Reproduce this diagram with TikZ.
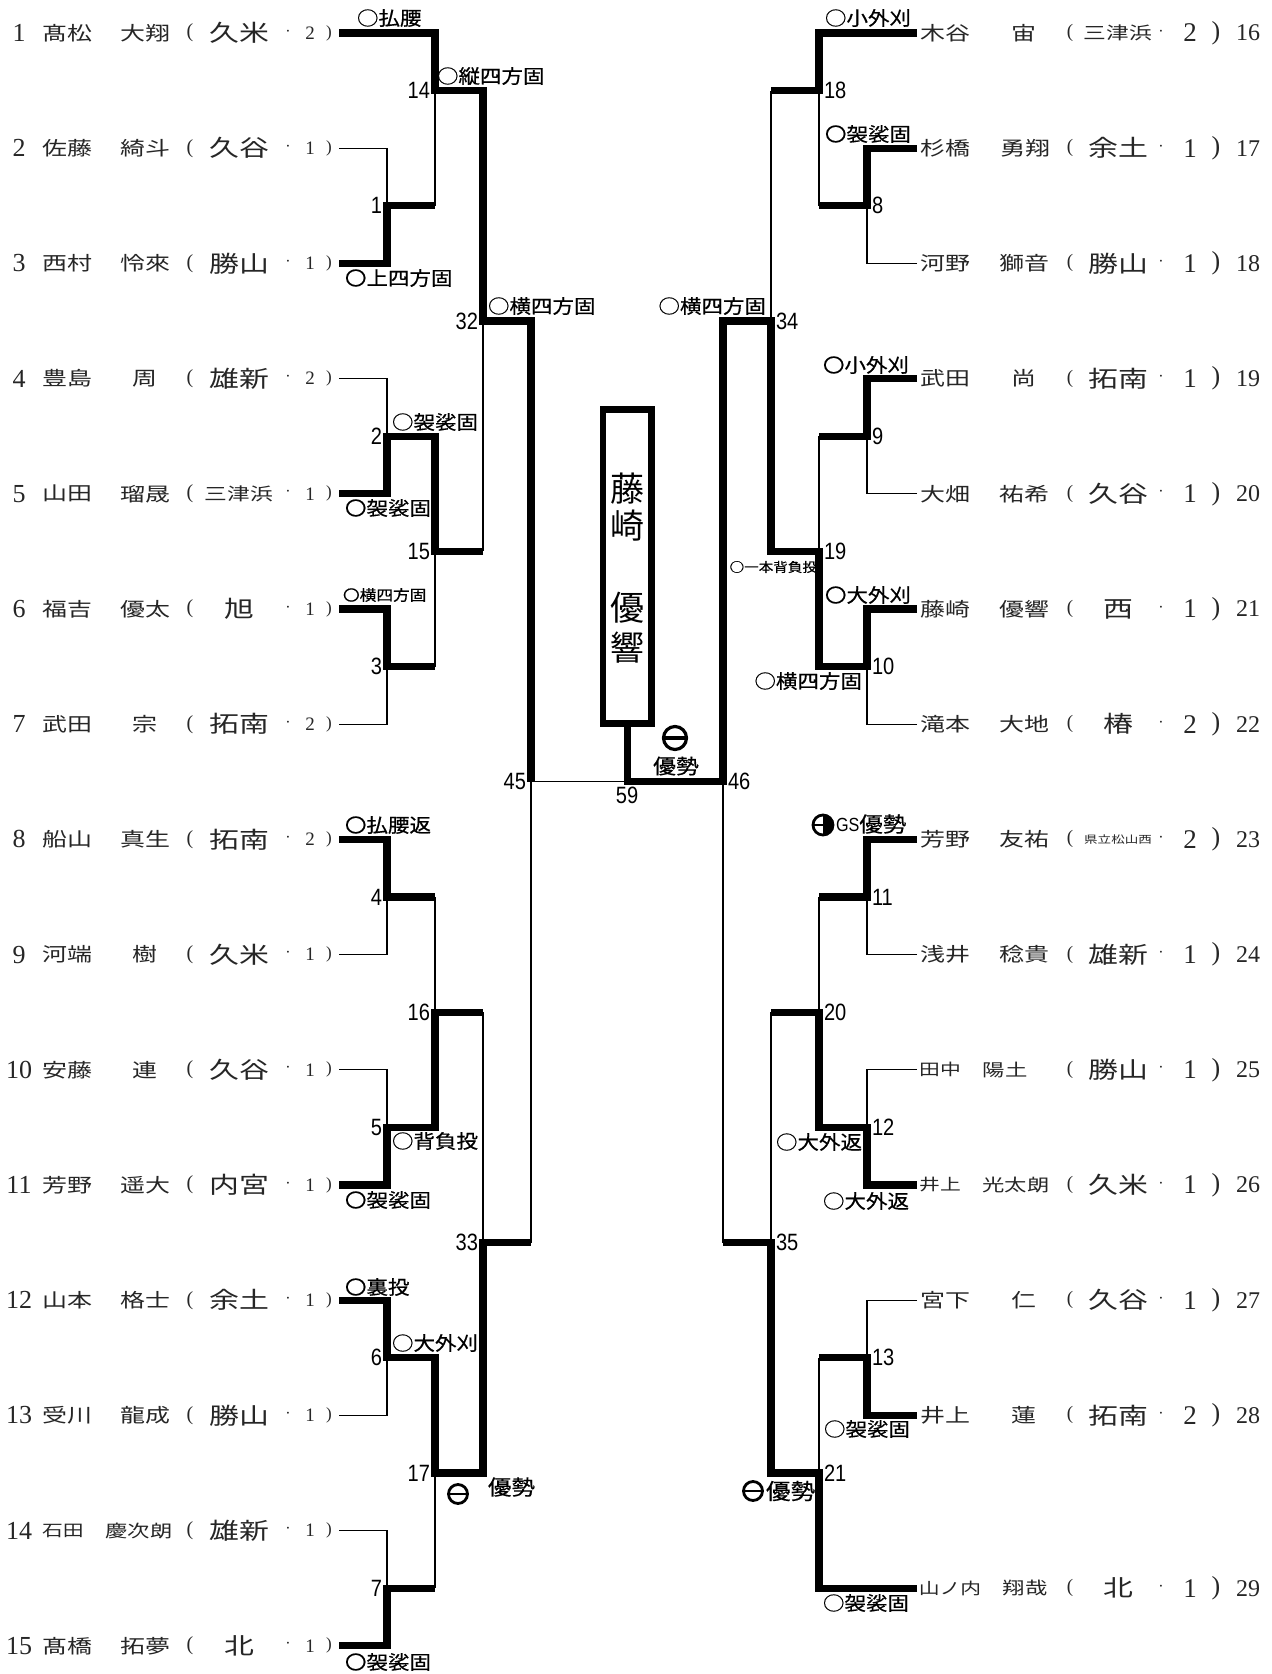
\documentclass[tikz,border=0pt]{standalone}
\usepackage{fontspec}
\setmainfont{Liberation Serif}
\newfontfamily\jpname[FakeStretch=1.3]{Noto Sans CJK JP}
\newfontfamily\jplab[FakeStretch=1.12,FakeBold=0.6]{Noto Sans CJK JP}
\newfontfamily\jpbox{Noto Sans CJK JP}
\newfontfamily\numf[FakeStretch=0.85]{Liberation Sans}
\newcommand\ky[1]{33+57.6*#1}
\newcommand\smn{\fontsize{8pt}{8pt}\selectfont}
\newcommand\smb{\fontsize{8.6pt}{9pt}\selectfont}
\newcommand\schm{\fontsize{8.75pt}{9pt}\selectfont}
\newcommand\scht{\fontsize{5.2pt}{6pt}\selectfont}
% left row: id, k, surx, sur, givx, giv, school, grade
\newcommand\LR[8]{%
  \node[pn] (Ln#1) at (19,\ky{#2}) {#1};
  \node[nm] (Ls#1) at (#3,\ky{#2}) {#4};
  \node[nm] (Lg#1) at (#5,\ky{#2}) {#6};
  \node[opL] (Lo#1) at (190,\ky{#2}) {(};
  \node[sc] (Lc#1) at (239,\ky{#2}) {#7};
  \node[dt] (Ld#1) at (288,\ky{#2}) {·};
  \node[grL] (Lr#1) at (310,\ky{#2}) {#8};
  \node[cpL] (Lp#1) at (329,\ky{#2}) {)};
}
% right row: id, k, surx, sur, givx, giv, school, grade
\newcommand\RR[8]{%
  \node[nm] (Rs#1) at (#3,\ky{#2}) {#4};
  \node[nm] (Rg#1) at (#5,\ky{#2}) {#6};
  \node[opR] (Ro#1) at (1070,\ky{#2}) {(};
  \node[sc] (Rc#1) at (1118,\ky{#2}) {#7};
  \node[dt] (Rd#1) at (1161,\ky{#2}) {·};
  \node[grR] (Rr#1) at (1190,\ky{#2}) {#8};
  \node[cpR] (Rp#1) at (1216,\ky{#2}) {)};
  \node[pnR] (Rn#1) at (1236,\ky{#2}) {#1};
}
\begin{document}
\begin{tikzpicture}[x=0.5pt,y=-0.5pt,
  every node/.style={inner sep=0pt,outer sep=0pt},
  thk/.style={line width=3.6pt,line join=miter},
  thn/.style={line width=0.65pt},
  nm/.style={font=\jpname\fontsize{9.6pt}{10pt}\selectfont,text=black!85},
  sc/.style={font=\jpname\fontsize{11.5pt}{12pt}\selectfont,text=black!85},
  pn/.style={font=\fontsize{13pt}{13pt}\selectfont,text=black!85},
  pnR/.style={font=\fontsize{12pt}{12pt}\selectfont,anchor=west,text=black!85},
  opL/.style={font=\fontsize{10pt}{10pt}\selectfont,text=black!85},
  cpL/.style={font=\fontsize{8.5pt}{9pt}\selectfont,text=black!85},
  opR/.style={font=\fontsize{9.5pt}{10pt}\selectfont,text=black!85},
  cpR/.style={font=\fontsize{13pt}{13pt}\selectfont,text=black!85},
  dt/.style={font=\fontsize{8pt}{8pt}\selectfont,text=black!85},
  grL/.style={font=\fontsize{9.5pt}{10pt}\selectfont,text=black!85},
  grR/.style={font=\fontsize{13.5pt}{14pt}\selectfont,text=black!85},
  mn/.style={font=\numf\fontsize{11.8pt}{12pt}\selectfont},
  mnL/.style={mn,anchor=east,xshift=-2.5pt},
  mnR/.style={mn,anchor=west,xshift=2.5pt},
  lab/.style={font=\jplab\fontsize{9.6pt}{10pt}\selectfont},
  labW/.style={lab,anchor=west},
  labE/.style={lab,anchor=east},
  bx/.style={font=\jpbox\fontsize{17pt}{17pt}\selectfont},
  yusei/.style={circle,draw,line width=1.4pt,minimum size=9.5pt}
]
\fill[white] (0,0) rectangle (1272,1674);
\useasboundingbox (0,0) rectangle (1272,1674);

% ---------- coordinates ----------
\foreach \k in {0,...,28}{
  \coordinate (P\k) at (339,\ky{\k});
  \coordinate (A\k) at (387,\ky{\k});
  \coordinate (B\k) at (435,\ky{\k});
  \coordinate (C\k) at (483,\ky{\k});
  \coordinate (D\k) at (531,\ky{\k});
  \coordinate (Q\k) at (917,\ky{\k});
  \coordinate (E\k) at (867,\ky{\k});
  \coordinate (F\k) at (819,\ky{\k});
  \coordinate (G\k) at (771,\ky{\k});
  \coordinate (H\k) at (723,\ky{\k});
}
\coordinate (Z13) at (627.25,\ky{13});

% ---------- champion box ----------
\node[draw,line width=3.3pt,minimum width=24.25pt,minimum height=157pt] (box) at (627.25,566.5) {};
\node[bx] (c1) at (627,489) {藤};
\node[bx] (c2) at (627,526) {崎};
\node[bx] (c3) at (627,608) {優};
\node[bx] (c4) at (627,648) {響};

% ---------- left bracket ----------
\draw[thk] (P0)--(B0)--(B1)--(C1)--(C5)--(D5)--(D13);
\draw[thn] (P2)--(A2)--(A3);
\draw[thk] (P4)--(A4)--(A3)--(B3);
\draw[thn] (B1)--(B3);
\draw[thn] (P6)--(A6)--(A7);
\draw[thk] (P8)--(A8)--(A7)--(B7)--(B9)--(C9);
\draw[thk] (P10)--(A10)--(A11)--(B11);
\draw[thn] (P12)--(A12)--(A11);
\draw[thn] (B9)--(B11);
\draw[thn] (C5)--(C9);
\draw[thk] (P14)--(A14)--(A15)--(B15);
\draw[thn] (P16)--(A16)--(A15);
\draw[thn] (B15)--(B17);
\draw[thn] (P18)--(A18)--(A19);
\draw[thk] (P20)--(A20)--(A19)--(B19)--(B17)--(C17);
\draw[thn] (C17)--(C21);
\draw[thk] (P22)--(A22)--(A23)--(B23)--(B25)--(C25)--(C21)--(D21);
\draw[thn] (P24)--(A24)--(A23);
\draw[thn] (P26)--(A26)--(A27);
\draw[thk] (P28)--(A28)--(A27)--(B27);
\draw[thn] (B25)--(B27);
\draw[thn] (D13)--(D21);
\draw[thn] (D13)--(Z13);

% ---------- right bracket ----------
\draw[thk] (Q0)--(F0)--(F1)--(G1);
\draw[thk] (Q2)--(E2)--(E3)--(F3);
\draw[thn] (Q4)--(E4)--(E3);
\draw[thn] (F1)--(F3);
\draw[thn] (G1)--(G5);
\draw[thk] (Q6)--(E6)--(E7)--(F7);
\draw[thn] (Q8)--(E8)--(E7);
\draw[thn] (F7)--(F9);
\draw[thk] (Q10)--(E10)--(E11)--(F11)--(F9)--(G9)--(G5)--(H5)--(H13)--(Z13)--(box.south);
\draw[thn] (Q12)--(E12)--(E11);
\draw[thk] (Q14)--(E14)--(E15)--(F15);
\draw[thn] (Q16)--(E16)--(E15);
\draw[thn] (F15)--(F17);
\draw[thn] (Q18)--(E18)--(E19);
\draw[thk] (Q20)--(E20)--(E19)--(F19)--(F17)--(G17);
\draw[thn] (G17)--(G21);
\draw[thn] (Q22)--(E22)--(E23);
\draw[thk] (Q24)--(E24)--(E23)--(F23);
\draw[thn] (F23)--(F25);
\draw[thk] (Q27)--(F27)--(F25)--(G25)--(G21)--(H21);
\draw[thn] (H13)--(H21);

% ---------- match numbers ----------
\node[mnL] (m1) at (A3) {1};
\node[mnL] (m14) at (B1) {14};
\node[mnL] (m2) at (A7) {2};
\node[mnL] (m15) at (B9) {15};
\node[mnL] (m3) at (A11) {3};
\node[mnL] (m32) at (C5) {32};
\node[mnL] (m4) at (A15) {4};
\node[mnL] (m5) at (A19) {5};
\node[mnL] (m16) at (B17) {16};
\node[mnL] (m6) at (A23) {6};
\node[mnL] (m7) at (A27) {7};
\node[mnL] (m17) at (B25) {17};
\node[mnL] (m33) at (C21) {33};
\node[mnL] (m45) at (D13) {45};
\node[mn] (m59) at (627,795) {59};
\node[mnR] (m46) at (H13) {46};
\node[mnR] (m18) at (F1) {18};
\node[mnR] (m8) at (E3) {8};
\node[mnR] (m34) at (G5) {34};
\node[mnR] (m9) at (E7) {9};
\node[mnR] (m19) at (F9) {19};
\node[mnR] (m10) at (E11) {10};
\node[mnR] (m11) at (E15) {11};
\node[mnR] (m20) at (F17) {20};
\node[mnR] (m12) at (E19) {12};
\node[mnR] (m35) at (G21) {35};
\node[mnR] (m13) at (E23) {13};
\node[mnR] (m21) at (F25) {21};

% ---------- technique labels left ----------
\node[labW] (t1) at (357,18) {○払腰};
\node[labW] (t2) at (437,76) {○縦四方固};
\node[labW] (t3) at (345,278) {〇上四方固};
\node[labW] (t4) at (488,306) {○横四方固};
\node[labW] (t5) at (392,422) {○袈裟固};
\node[labW] (t6) at (345,508) {〇袈裟固};
\node[labW,font=\jplab\fontsize{7.45pt}{8pt}\selectfont] (t7) at (343,595) {〇横四方固};
\node[labW] (t8) at (345,825) {〇払腰返};
\node[labW] (t9) at (392,1141) {○背負投};
\node[labW] (t10) at (345,1200) {〇袈裟固};
\node[labW] (t11) at (345,1287) {〇裏投};
\node[labW] (t12) at (392,1343) {○大外刈};
\node[labW] (t13) at (345,1662) {〇袈裟固};
\node[yusei] (u17) at (458,1494) {};
\draw[line width=1.4pt] (u17.west)--(u17.east);
\node[labW,font=\jplab\fontsize{10.5pt}{11pt}\selectfont] (y17) at (488,1487) {優勢};

% ---------- technique labels right ----------
\node[labE] (s1) at (911,18) {○小外刈};
\node[labE] (s2) at (911,134) {〇袈裟固};
\node[labE] (s3) at (766,306) {○横四方固};
\node[labE] (s4) at (909,365) {〇小外刈};
\node[labE,font=\jplab\fontsize{6.5pt}{7pt}\selectfont] (s5) at (817,567) {○一本背負投};
\node[labE] (s6) at (911,595) {〇大外刈};
\node[labE] (s7) at (862,681) {○横四方固};
\node[yusei,minimum size=11.5pt,line width=1.6pt] (u59) at (675,738) {};
\draw[line width=1.6pt] (u59.west)--(u59.east);
\node[font=\jplab\fontsize{10.2pt}{11pt}\selectfont] (y59) at (676,766) {優勢};
\node[yusei,minimum size=10pt] (gs) at (823,825) {};
\fill (gs.south) arc[start angle=-90,end angle=90,radius=5pt] -- cycle;
\draw[line width=1.4pt] (gs.west)--(gs.center);
\node[anchor=west] (gst) at (836,824) {{\numf\fontsize{9.5pt}{10pt}\selectfont GS}{\jplab\fontsize{10.5pt}{11pt}\selectfont 優勢}};
\node[labE] (s8) at (862,1142) {○大外返};
\node[labE] (s9) at (909,1201) {○大外返};
\node[labE] (s10) at (910,1429) {○袈裟固};
\node[yusei] (u21) at (753,1491) {};
\draw[line width=1.4pt] (u21.west)--(u21.east);
\node[labW,font=\jplab\fontsize{11pt}{11pt}\selectfont] (y21) at (766,1491) {優勢};
\node[labE] (s11) at (909,1603) {○袈裟固};

% ---------- players left ----------
\LR{1}{0}{67}{髙松}{145}{大翔}{久米}{2}
\LR{2}{2}{67}{佐藤}{145}{綺斗}{久谷}{1}
\LR{3}{4}{67}{西村}{145}{怜來}{勝山}{1}
\LR{4}{6}{67}{豊島}{145}{周}{雄新}{2}
\LR{5}{8}{67}{山田}{145}{瑠晟}{\schm 三津浜}{1}
\LR{6}{10}{67}{福吉}{145}{優太}{旭}{1}
\LR{7}{12}{67}{武田}{145}{宗}{拓南}{2}
\LR{8}{14}{67}{船山}{145}{真生}{拓南}{2}
\LR{9}{16}{67}{河端}{145}{樹}{久米}{1}
\LR{10}{18}{67}{安藤}{145}{連}{久谷}{1}
\LR{11}{20}{67}{芳野}{145}{遥大}{内宮}{1}
\LR{12}{22}{67}{山本}{145}{格士}{余土}{1}
\LR{13}{24}{67}{受川}{145}{龍成}{勝山}{1}
\LR{14}{26}{63}{\smn 石田}{139}{\smb 慶次朗}{雄新}{1}
\LR{15}{28}{67}{髙橋}{145}{拓夢}{北}{1}

% ---------- players right ----------
\RR{16}{0}{945}{木谷}{1024}{宙}{\schm 三津浜}{2}
\RR{17}{2}{945}{杉橋}{1025}{勇翔}{余土}{1}
\RR{18}{4}{945}{河野}{1024}{獅音}{勝山}{1}
\RR{19}{6}{945}{武田}{1024}{尚}{拓南}{1}
\RR{20}{8}{945}{大畑}{1024}{祐希}{久谷}{1}
\RR{21}{10}{945}{藤崎}{1024}{優響}{西}{1}
\RR{22}{12}{945}{滝本}{1024}{大地}{椿}{2}
\RR{23}{14}{945}{芳野}{1024}{友祐}{\scht 県立松山西}{2}
\RR{24}{16}{945}{浅井}{1024}{稔貴}{雄新}{1}
\RR{25}{18}{940}{\smn 田中}{1005}{\smb 陽土}{勝山}{1}
\RR{26}{20}{940}{\smn 井上}{1016}{\smb 光太朗}{久米}{1}
\RR{27}{22}{945}{宮下}{1024}{仁}{久谷}{1}
\RR{28}{24}{945}{井上}{1024}{蓮}{拓南}{2}
\RR{29}{27}{950}{\smn 山ノ内}{1025}{\smb 翔哉}{北}{1}
\end{tikzpicture}
\end{document}
